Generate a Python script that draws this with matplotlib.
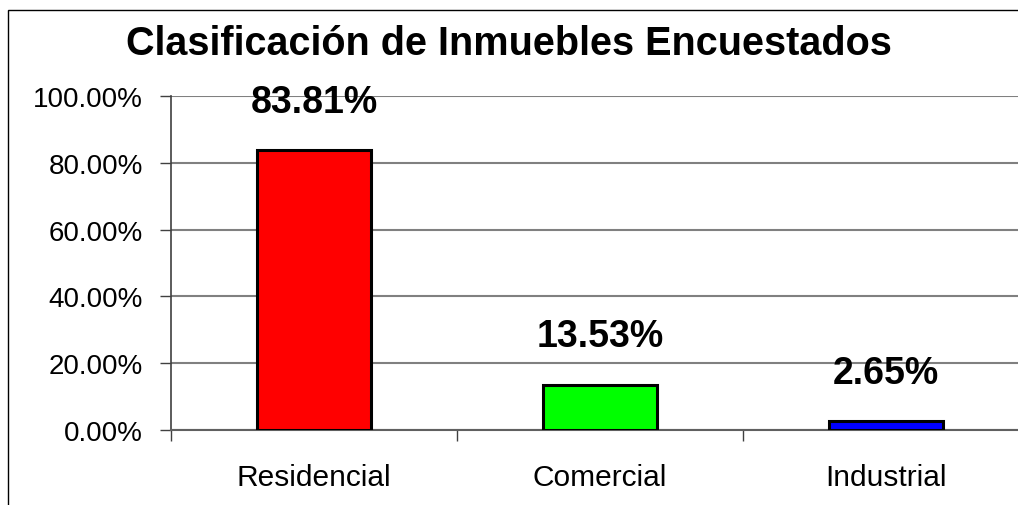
import matplotlib
matplotlib.use("Agg")
import matplotlib.pyplot as plt
from matplotlib.patches import Rectangle

categorias = ["Residencial", "Comercial", "Industrial"]
porcentajes = [83.81, 13.53, 2.65]
colores = ["#FF0000", "#00FF00", "#0000FF"]
marcas_y = [0, 20, 40, 60, 80, 100]

plt.rcParams['font.family'] = ['Liberation Sans', 'DejaVu Sans']

W, H = 1018, 506
fig = plt.figure(figsize=(W / 100, H / 100), dpi=100)

# marco exterior del grafico (recortado a la derecha y abajo)
fig.patches.append(Rectangle((8 / W, -0.1), 1.2, 1 - 11 / H + 0.1, transform=fig.transFigure,
                             fill=False, edgecolor="black", linewidth=1.0, zorder=0))

ax = fig.add_axes([171 / W, (H - 431) / H, 858 / W, 334 / H])
x = list(range(len(categorias)))
ax.bar(x, porcentajes, width=0.4, color=colores, edgecolor="black", linewidth=2.2, zorder=3)

for xi, v in zip(x, porcentajes):
    ax.text(xi, v + 14.5, f"{v:.2f}%", ha="center", va="center",
            fontsize=27, fontweight="bold", zorder=4)

ax.set_xlim(-0.5, len(categorias) - 0.5)
ax.set_ylim(0, 100)
ax.set_yticks(marcas_y)
ax.set_yticklabels([f"{t:.2f}%" for t in marcas_y], fontsize=20)
ax.yaxis.grid(True, color="#808080", linewidth=1.5, zorder=1)
ax.set_axisbelow(True)

ax.set_xticks(x)
ax.set_xticklabels(categorias, fontsize=21.5)
ax.set_xticks([i - 0.5 for i in range(len(categorias) + 1)], minor=True)
ax.tick_params(axis="x", which="major", length=0, pad=24)
ax.tick_params(axis="x", which="minor", length=8, width=1, color="#404040", direction="out")
ax.tick_params(axis="y", length=8, width=1, color="#404040", pad=12, direction="out")

for s in ["top", "right"]:
    ax.spines[s].set_visible(False)
ax.spines["left"].set_color("#404040")
ax.spines["left"].set_linewidth(1.2)
ax.spines["bottom"].set_color("#606060")
ax.spines["bottom"].set_linewidth(1.5)

fig.text(509 / W, 1 - 44 / H, "Clasificación de Inmuebles Encuestados", ha="center", va="center",
         fontsize=28.5, fontweight="bold")

fig.savefig("out.png", dpi=100)
